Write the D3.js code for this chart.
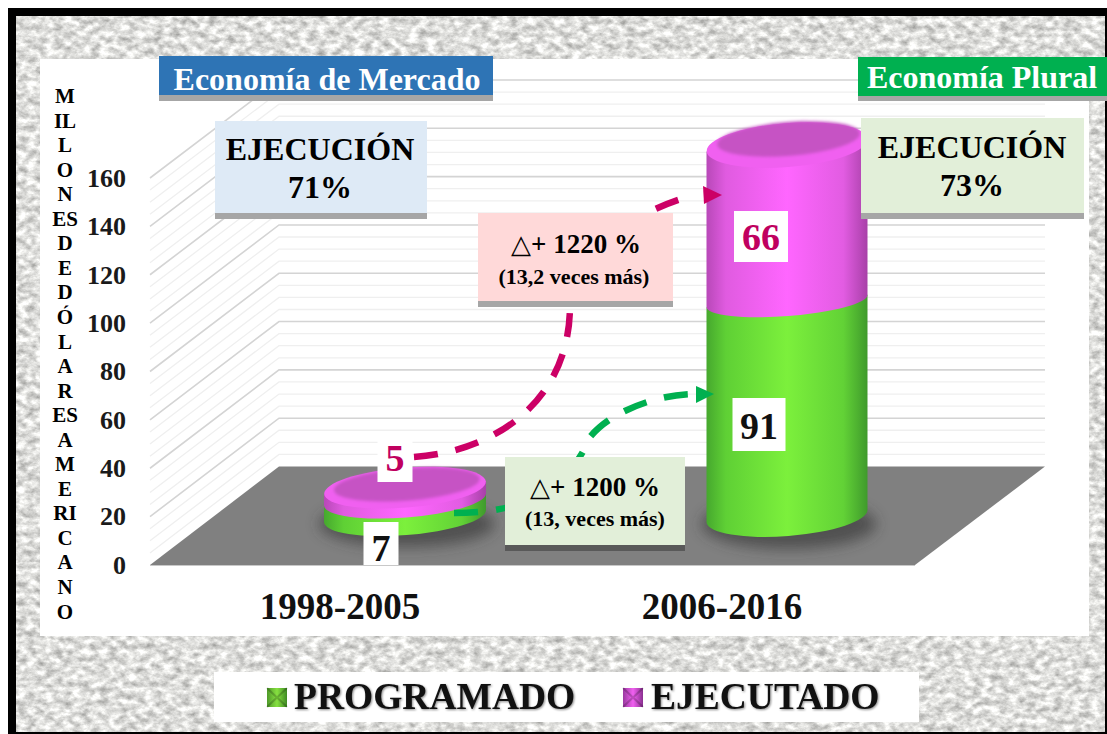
<!DOCTYPE html>
<html><head><meta charset="utf-8">
<script src="https://cdn.jsdelivr.net/npm/d3@7"></script>
<style>
html,body{margin:0;padding:0;background:#fff;overflow:hidden}
svg{display:block}
text{font-family:"Liberation Serif",serif;font-weight:bold}
</style></head><body>
<svg id="c" width="1107" height="734"></svg>
<script>
const categories = ["1998-2005", "2006-2016"];
const programado = [7, 91];
const ejecutado = [5, 66];
const yTicks = [0, 20, 40, 60, 80, 100, 120, 140, 160];
const minorTicks = d3.range(0, 161, 5);
const axisLetters = ["M","IL","L","O","N","ES","D","E","D","Ó","L","A","R","ES","A","M","E","RI","C","A","N","O"];
const legendItems = ["PROGRAMADO", "EJECUTADO"];

const svg = d3.select("#c");
const defs = svg.append("defs");

// paper texture
const tex = defs.append("filter").attr("id","paper").attr("x",0).attr("y",0).attr("width","100%").attr("height","100%")
  .attr("color-interpolation-filters","sRGB");
tex.append("feTurbulence").attr("type","fractalNoise").attr("baseFrequency","0.11 0.16").attr("numOctaves",4).attr("seed",7);
tex.append("feColorMatrix").attr("type","matrix").attr("values","0.6 0 0 0 0.57  0.6 0 0 0 0.57  0.6 0 0 0 0.56  0 0 0 0 1");
defs.append("filter").attr("id","blur").attr("x","-30%").attr("y","-50%").attr("width","160%").attr("height","200%")
  .append("feGaussianBlur").attr("stdDeviation",7);
defs.append("filter").attr("id","soft").attr("x","-10%").attr("y","-10%").attr("width","120%").attr("height","120%")
  .append("feGaussianBlur").attr("stdDeviation",1.5);

function grad(id, stops){
  const g = defs.append("linearGradient").attr("id",id).attr("x1",0).attr("x2",1).attr("y1",0).attr("y2",0);
  stops.forEach(([o,c])=>g.append("stop").attr("offset",o).attr("stop-color",c));
}
grad("gGreen",[[0,"#46a82e"],[0.12,"#5fd035"],[0.5,"#7cf03c"],[0.85,"#62d236"],[1,"#3f9a2c"]]);
grad("gMag",[[0,"#b848b8"],[0.12,"#e05be0"],[0.5,"#ff66ff"],[0.85,"#e25ce2"],[1,"#a840a8"]]);
grad("swGreen",[[0,"#4f9a2a"],[0.5,"#86e040"],[1,"#3f8a24"]]);
grad("swMag",[[0,"#9a3aa0"],[0.5,"#f060f0"],[1,"#8a3090"]]);

// frame + texture
svg.append("rect").attr("x",8).attr("y",8).attr("width",1099).attr("height",726).attr("fill","#000");
svg.append("rect").attr("x",16).attr("y",16).attr("width",1089).attr("height",716).attr("fill","#ddd").attr("filter","url(#paper)");
svg.append("rect").attr("x",40).attr("y",59).attr("width",1049).attr("height",577).attr("fill","#fff");

// scales
const yFront = d3.scaleLinear().domain([0,160]).range([565,178]);
const yBack  = d3.scaleLinear().domain([0,160]).range([466.5,80]);
const x = d3.scaleBand().domain(categories).range([149,913]);
const depthX = 130;
const backRight = 1045;
const hScale = d3.scaleLinear().domain([0,160]).range([0,378]);

// walls
const wall = svg.append("g");
minorTicks.forEach(t=>{
  const major = t % 20 === 0;
  if(t===0) return;
  wall.append("path")
    .attr("d",`M${x.range()[0]+1},${yFront(t)}L${x.range()[0]+depthX},${yBack(t)}L${backRight},${yBack(t)}`)
    .attr("fill","none").attr("stroke",major?"#d4d4d4":"#efefef").attr("stroke-width",major?1.6:1.3);
});

// floor
const fy0=565, fy1=466.5;
svg.append("path").attr("d",`M150,${fy0}L279,${fy1}L${backRight},${fy1}L915,${fy0}Z`).attr("fill","#808080");
svg.append("line").attr("x1",150).attr("x2",915).attr("y1",565.5).attr("y2",565.5).attr("stroke","#c8c8c8");

// cylinders
const base = 516;
const radX = [81, 80.5];
const capRy = [20, 22];
const arcRy = [[19,18],[20,15]];
const tilt = 4.5;
categories.forEach((c,i)=>{
  const cx = x(c)+x.bandwidth()/2+depthX/2;
  const rx = radX[i];
  const dy = rx*Math.sin(tilt*Math.PI/180);
  svg.append("ellipse").attr("cx",cx+2).attr("cy",base+8).attr("rx",rx+7).attr("ry",capRy[i]+3)
    .attr("fill","#333").attr("opacity",.6).attr("filter","url(#blur)");
  const g = svg.append("g");
  const seg = (yBot,ryBot,yTop,fill)=>g.append("path")
    .attr("d",`M${cx-rx},${yTop+dy}L${cx-rx},${yBot+dy}A${rx},${ryBot} ${-tilt} 0 0 ${cx+rx},${yBot-dy}L${cx+rx},${yTop-dy}Z`)
    .attr("fill",fill);
  const h1 = hScale(programado[i]), h2 = hScale(ejecutado[i]);
  const yJ = base-h1, yT = base-h1-h2;
  seg(base, arcRy[i][0], yJ, "url(#gGreen)");
  seg(yJ, arcRy[i][1], yT, "url(#gMag)");
  g.append("ellipse").attr("cx",cx).attr("cy",yT).attr("rx",rx).attr("ry",capRy[i])
    .attr("transform",`rotate(${-tilt},${cx},${yT})`).attr("fill","#f060f0");
  g.append("ellipse").attr("cx",cx+2).attr("cy",yT-(i?6:3)).attr("rx",rx-(i?9:8)).attr("ry",capRy[i]-(i?5:4))
    .attr("transform",`rotate(${-tilt},${cx},${yT})`).attr("fill","#c653c4").attr("filter","url(#soft)");
});

// axis
const axisG = svg.append("g").attr("transform","translate(126,0)")
  .call(d3.axisLeft(yFront).tickValues(yTicks).tickSize(0).tickPadding(0));
axisG.select(".domain").remove();
axisG.selectAll("text").attr("font-size",26).attr("fill","#1a1a1a").attr("font-family","Liberation Serif").attr("font-weight","bold");

// stacked axis title
svg.append("g").selectAll("text").data(axisLetters).join("text")
  .attr("x",65).attr("y",(d,i)=>103+i*24.55).attr("text-anchor","middle").attr("font-size",21).attr("fill","#000").text(d=>d);

// category labels
svg.append("g").attr("transform","translate(0,619)")
  .call(d3.axisBottom(x).tickSize(0).tickPadding(0))
  .call(g=>g.select(".domain").remove())
  .selectAll("text").attr("font-size",37).attr("fill","#111").attr("dy",0).attr("y",0)
  .attr("font-family","Liberation Serif").attr("font-weight","bold");

// arrows
function arrow(d, color){
  svg.append("path").attr("d",d).attr("fill","none").attr("stroke",color).attr("stroke-width",6.5).attr("stroke-dasharray","24 18");
}
arrow("M414,457C490,452 570,405 570,305C570,265 610,222 684,198","#cc0066");
svg.append("path").attr("d","M703,186L722,195L704,204Z").attr("fill","#cc0066");
arrow("M454,513C525,513 568,490 590,437C612,410 660,394 695,394","#00b050");
svg.append("path").attr("d","M696,386L714,394L696,403Z").attr("fill","#00b050");

// boxes
function box(x0,y0,w,h,fill,strip,stripColor){
  svg.append("rect").attr("x",x0).attr("y",y0+h).attr("width",w).attr("height",strip).attr("fill",stripColor||"#a6a6a6");
  svg.append("rect").attr("x",x0).attr("y",y0).attr("width",w).attr("height",h).attr("fill",fill);
}
function label(t,xp,yp,size,color,anchor){
  return svg.append("text").attr("x",xp).attr("y",yp).attr("text-anchor",anchor||"middle").attr("font-size",size).attr("fill",color||"#000").text(t);
}
box(159,56,334,39,"#2e74b5",6);
label("Economía de Mercado",327,90,32,"#fff");
box(858,57,249,39,"#00b050",5);
label("Economía Plural",982,88,32,"#fff");
box(215,121,212,92,"#deeaf6",6);
label("EJECUCIÓN",320,160,32); label("71%",320,198,32);
box(861,118,223,95,"#e2efd9",6);
label("EJECUCIÓN",972,158,32); label("73%",972,196,32);
box(478,213,195,88,"#ffd9d9",6);
box(505,457,180,88,"#e2efd9",6,"#595959");

function delta(cx,y,t){
  const tx = svg.append("text").attr("x",cx).attr("y",y).attr("text-anchor","middle").attr("font-size",27).attr("fill","#000");
  tx.append("tspan").style("font-family","'DejaVu Sans'").style("font-weight","bold").attr("font-size",26).text("△");
  tx.append("tspan").text(t);
}
delta(576,253,"+ 1220 %");
label("(13,2 veces más)",574,284,22);
delta(595,496,"+ 1200 %");
label("(13, veces más)",595,526,22);

// value labels
function valBox(v,cx,top,w,h,color,size,base){
  svg.append("rect").attr("x",cx-w/2).attr("y",top).attr("width",w).attr("height",h).attr("fill","#fff");
  label(v,cx,base,size,color);
}
valBox(ejecutado[1],761,211,54,51,"#c0005f",38,250);
valBox(programado[1],759,398,53,53,"#111",38,439);
valBox(ejecutado[0],395,440,35,42,"#c0005f",38,471);
valBox(programado[0],381,522,35,43,"#111",38,561);

// legend
svg.append("rect").attr("x",214).attr("y",672).attr("width",705).attr("height",50).attr("fill","#fff");
const legG = svg.append("g");
[[267,294,"swGreen"],[623,651,"swMag"]].forEach(([sx,tx,f],i)=>{
  legG.append("rect").attr("x",sx).attr("y",688).attr("width",20).attr("height",19).attr("fill",`url(#${f})`);
  legG.append("path").attr("d",`M${sx},688L${sx+10},697.5L${sx+20},688M${sx},707L${sx+10},697.5L${sx+20},707`).attr("fill","none").attr("stroke","#0003").attr("stroke-width",2);
  legG.append("text").attr("x",tx).attr("y",709).attr("font-size",37.5).attr("fill","#111").style("filter","drop-shadow(1.5px 1.5px 1px #888)").text(legendItems[i]);
});
</script>
</body></html>
